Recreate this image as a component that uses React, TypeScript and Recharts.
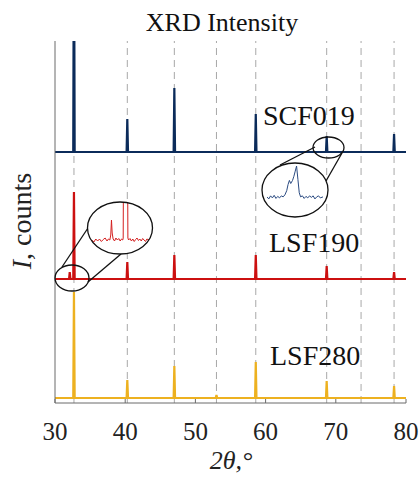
import React from 'react';
import { LineChart, Line, XAxis, YAxis, ReferenceLine } from 'recharts';

const W = 420;
const H = 477;
const SERIF = "'Liberation Serif', 'DejaVu Serif', serif";
const AXIS = '#6b6b6b';

// 2theta axis
const xTicks = [30, 40, 50, 60, 70, 80];
const refPeaks = [32.7, 40.3, 47.0, 53.0, 58.6, 68.7, 73.6, 78.3];

// [2theta, height above baseline] in a.u.
const scf019Peaks = [[32.7, 260], [40.3, 33], [47.0, 64], [58.6, 38], [68.7, 16], [78.3, 18]];
const lsf190Peaks = [[32.1, 7], [32.7, 87], [40.3, 17], [47.0, 24], [58.6, 24], [68.7, 13], [78.3, 7]];
const lsf280Peaks = [[32.7, 106], [40.3, 18], [47.0, 32], [53.0, 3], [58.6, 36], [68.7, 17], [78.3, 12]];

// stacking offsets
const scf019Offset = 251;
const lsf190Offset = 124;
const lsf280Offset = 5;

// zoomed views (insets)
const scfInset = [
  [68.1, 1], [68.14, -1], [68.18, 2], [68.22, 0], [68.26, 2.5], [68.3, -0.5], [68.34, 1.5],
  [68.38, 0], [68.42, 2], [68.46, 1], [68.5, 3], [68.54, 7], [68.57, 13], [68.6, 17],
  [68.63, 14], [68.67, 17], [68.7, 21], [68.73, 26], [68.76, 31], [68.79, 18], [68.82, 5],
  [68.85, 1], [68.89, 2], [68.93, -0.5], [68.97, 1.5], [69.01, 0], [69.05, 2], [69.09, 0.5],
  [69.13, 2], [69.17, -1], [69.21, 1], [69.25, 2], [69.29, 0], [69.35, 1],
];
const lsfInset = [
  [31.27, 1], [31.35, -1], [31.43, 2], [31.51, 0], [31.59, 2], [31.67, -0.5], [31.75, 1.5],
  [31.83, 3], [31.91, 0], [31.97, 2], [32.03, 1], [32.07, 6], [32.1, 21], [32.13, 8],
  [32.17, 2], [32.23, 0], [32.29, 3], [32.35, 1], [32.41, 2.5], [32.47, 0], [32.53, 2],
  [32.58, 1], [32.6, 3], [32.7, 600], [32.8, 3], [32.83, 1], [32.89, 2.5], [32.95, 0],
  [33.01, 2], [33.07, -0.5], [33.13, 1.5], [33.19, 3], [33.25, 0.5], [33.31, 2], [33.37, 0],
  [33.43, 2.5], [33.49, 1], [33.55, -0.5], [33.61, 2], [33.7, 1],
];

const buildTrace = (peaks: number[][], offset: number) => {
  const pts = [{ x: 30, y: offset }];
  peaks.forEach(([p, h]) => {
    pts.push({ x: p - 0.1, y: offset });
    pts.push({ x: p, y: offset + h });
    pts.push({ x: p + 0.1, y: offset });
  });
  pts.push({ x: 80, y: offset });
  return pts;
};

const toPts = (arr: number[][]) => arr.map(([x, y]) => ({ x, y }));

const XTick = (props: any) => (
  <text x={props.x} y={props.y} dy="0.71em" textAnchor="middle" fontFamily={SERIF} fontSize={25} fill="#222">
    {props.payload.value}
  </text>
);

const Inset = ({ left, top, width, height, data, xDomain, yDomain, margin, color }: any) => (
  <div
    style={{
      position: 'absolute', left, top, width, height,
      borderRadius: '50%', overflow: 'hidden', background: '#fff',
    }}
  >
    <LineChart width={width} height={height} margin={margin}>
      <XAxis type="number" dataKey="x" domain={xDomain} hide allowDataOverflow />
      <YAxis type="number" domain={yDomain} hide allowDataOverflow />
      <Line data={data} dataKey="y" stroke={color} strokeWidth={1} dot={false} isAnimationActive={false} />
    </LineChart>
  </div>
);

export default function App() {
  return (
    <div style={{ position: 'absolute', left: 0, top: 0, width: W, height: H, background: '#fff' }}>
      <LineChart width={W} height={H} margin={{ top: 41, right: 14, bottom: 0, left: 0 }}>
        <XAxis
          type="number"
          dataKey="x"
          domain={[30, 80]}
          ticks={xTicks}
          interval={0}
          height={74}
          tickSize={-4}
          tickMargin={23}
          axisLine={{ stroke: AXIS }}
          tickLine={{ stroke: AXIS }}
          tick={<XTick />}
          allowDataOverflow
        />
        <XAxis
          xAxisId="top"
          orientation="top"
          type="number"
          domain={[30, 80]}
          ticks={xTicks}
          height={0}
          tick={false}
          tickSize={-4}
          axisLine={{ stroke: AXIS }}
          tickLine={{ stroke: AXIS }}
          allowDataOverflow
        />
        <YAxis
          type="number"
          domain={[0, 362]}
          width={55}
          tick={false}
          tickLine={false}
          axisLine={{ stroke: AXIS }}
          allowDataOverflow
        />
        <YAxis
          yAxisId="r"
          orientation="right"
          type="number"
          domain={[0, 1]}
          width={0}
          tick={false}
          tickLine={false}
          axisLine={{ stroke: AXIS }}
        />
        {refPeaks.map((p) => (
          <ReferenceLine key={p} x={p} stroke="#a8a8a8" strokeDasharray="7 5" strokeWidth={1} />
        ))}
        <Line data={buildTrace(lsf280Peaks, lsf280Offset)} dataKey="y" stroke="#EDB120" strokeWidth={2.2} dot={false} isAnimationActive={false} />
        <Line data={buildTrace(lsf190Peaks, lsf190Offset)} dataKey="y" stroke="#cc1010" strokeWidth={2.2} dot={false} isAnimationActive={false} />
        <Line data={buildTrace(scf019Peaks, scf019Offset)} dataKey="y" stroke="#0b2b5a" strokeWidth={2.2} dot={false} isAnimationActive={false} />
      </LineChart>

      <svg width={W} height={H} style={{ position: 'absolute', left: 0, top: 0, pointerEvents: 'none' }}>
        <text x={222} y={31} textAnchor="middle" fontFamily={SERIF} fontSize={26} fill="#111">XRD Intensity</text>
        <text transform="translate(31,221) rotate(-90)" textAnchor="middle" fontFamily={SERIF} fontSize={28} fill="#222">
          <tspan fontStyle="italic">I</tspan>, counts
        </text>
        <text x={231} y={469} textAnchor="middle" fontFamily={SERIF} fontSize={26} fontStyle="italic" fill="#222">2θ,°</text>
        <text x={263} y={125} fontFamily={SERIF} fontSize={28} fill="#111">SCF019</text>
        <text x={269} y={252} fontFamily={SERIF} fontSize={28} fill="#111">LSF190</text>
        <text x={270} y={365} fontFamily={SERIF} fontSize={28} fill="#111">LSF280</text>

        <line x1={280} y1={165} x2={315} y2={147} stroke="#111" strokeWidth={1.3} />
        <line x1={326} y1={181} x2={342} y2={153} stroke="#111" strokeWidth={1.3} />
        <ellipse cx={328.5} cy={147.5} rx={15.5} ry={10.5} fill="none" stroke="#111" strokeWidth={1.3} />

        <line x1={88} y1={228} x2={62} y2={267} stroke="#111" strokeWidth={1.3} />
        <line x1={121} y1={254} x2={88} y2={282} stroke="#111" strokeWidth={1.3} />
        <ellipse cx={72} cy={278} rx={17} ry={13} fill="none" stroke="#111" strokeWidth={1.3} />
      </svg>

      <Inset
        left={262} top={163} width={66} height={54}
        data={toPts(scfInset)} xDomain={[68.1, 69.35]} yDomain={[-3, 31]}
        margin={{ top: 3, right: 5, bottom: 16, left: 5 }} color="#2a4a80"
      />
      <Inset
        left={87.5} top={202} width={65} height={52}
        data={toPts(lsfInset)} xDomain={[31.27, 33.7]} yDomain={[-4, 39]}
        margin={{ top: 0, right: 4, bottom: 9, left: 4 }} color="#d42020"
      />
      <svg width={W} height={H} style={{ position: 'absolute', left: 0, top: 0, pointerEvents: 'none' }}>
        <ellipse cx={295} cy={190} rx={33} ry={27} fill="none" stroke="#111" strokeWidth={1.3} />
        <ellipse cx={120} cy={228} rx={32.5} ry={26} fill="none" stroke="#111" strokeWidth={1.3} />
      </svg>
    </div>
  );
}
